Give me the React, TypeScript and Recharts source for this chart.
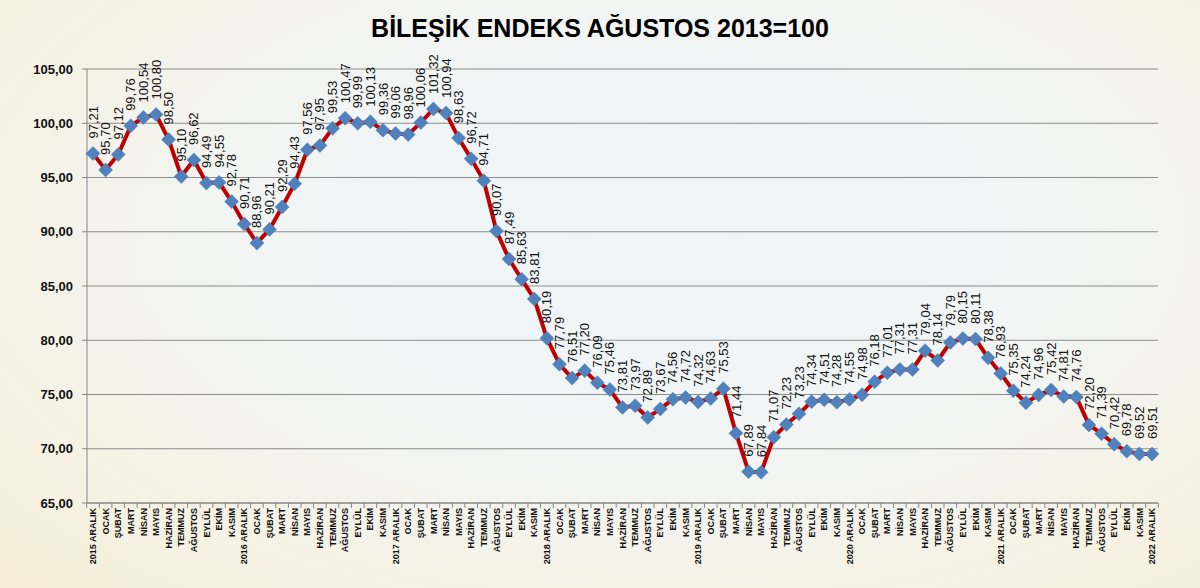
import React from "react";
import { LineChart, Line, XAxis, YAxis, CartesianGrid, LabelList } from "recharts";

const startYear = 2015;
const monthNames = ["OCAK", "ŞUBAT", "MART", "NİSAN", "MAYIS", "HAZİRAN", "TEMMUZ", "AĞUSTOS", "EYLÜL", "EKİM", "KASIM"];

const values = [
  97.21, 95.7, 97.12, 99.76, 100.54, 100.8, 98.5, 95.1, 96.62, 94.49, 94.55, 92.78,
  90.71, 88.96, 90.21, 92.29, 94.43, 97.56, 97.95, 99.53, 100.47, 99.99, 100.13, 99.36,
  99.06, 98.96, 100.06, 101.32, 100.94, 98.63, 96.72, 94.71, 90.07, 87.49, 85.63, 83.81,
  80.19, 77.79, 76.51, 77.2, 76.09, 75.46, 73.81, 73.97, 72.89, 73.67, 74.56, 74.72,
  74.32, 74.63, 75.53, 71.44, 67.89, 67.84, 71.07, 72.23, 73.23, 74.34, 74.51, 74.28,
  74.55, 74.98, 76.18, 77.01, 77.31, 77.31, 79.04, 78.14, 79.79, 80.15, 80.11, 78.38,
  76.93, 75.35, 74.24, 74.96, 75.42, 74.81, 74.76, 72.2, 71.39, 70.42, 69.78, 69.52, 69.51,
];

const categories = values.map((_, i) =>
  i % 12 === 0 ? `${startYear + i / 12} ARALIK` : monthNames[(i % 12) - 1]
);

const yTicks = [65, 70, 75, 80, 85, 90, 95, 100, 105];

const data = categories.map((name, i) => ({ name, value: values[i] }));

const W = 1200;
const H = 588;
const margin = { top: 69, right: 42, left: 0, bottom: 5 };
const plotW = W - 87 - margin.right;
const pad = 6;
const step = (plotW - 2 * pad) / (data.length - 1);

const fmt = (v: number) => v.toFixed(2).replace(".", ",");

const XTick = (props: any) => {
  const { x, y, payload, index } = props;
  return (
    <g>
      <line x1={x - step / 2} y1={y} x2={x - step / 2} y2={y + 5} stroke="#868686" />
      {index === data.length - 1 && (
        <line x1={x + step / 2} y1={y} x2={x + step / 2} y2={y + 5} stroke="#868686" />
      )}
      <text
        x={x}
        y={y + 5}
        transform={`rotate(-90, ${x}, ${y + 5})`}
        textAnchor="end"
        dy="0.35em"
        fontSize={9}
        fontWeight="bold"
        fontFamily="'Liberation Sans', Arial, sans-serif"
        fill="#111"
      >
        {payload.value}
      </text>
    </g>
  );
};

const Diamond = (props: any) => {
  const { cx, cy } = props;
  if (cx == null || cy == null) return null;
  const r = 7;
  return (
    <polygon
      points={`${cx},${cy - r} ${cx + r},${cy} ${cx},${cy + r} ${cx - r},${cy}`}
      fill="#4f81bd"
      stroke="#4a7ab3"
      strokeWidth={0.5}
    />
  );
};

const ValueLabel = (props: any) => {
  const { x, y, value } = props;
  const ly = y - 15;
  return (
    <text
      x={x}
      y={ly}
      transform={`rotate(-90, ${x}, ${ly})`}
      textAnchor="start"
      dy="0.35em"
      fontSize={13}
      fontFamily="'Liberation Sans', Arial, sans-serif"
      fill="#111"
    >
      {fmt(value)}
    </text>
  );
};

export default function App() {
  return (
    <div
      style={{
        position: "absolute",
        top: 0,
        left: 0,
        width: W,
        height: H,
        background:
          "radial-gradient(ellipse at 55% 40%, #eef4fa 0%, #f2f5f3 45%, #f6f1e2 80%, #f5edd8 100%)",
        fontFamily: "'Liberation Sans', Arial, sans-serif",
      }}
    >
      <div
        style={{
          position: "absolute",
          top: 14,
          left: 0,
          width: W,
          textAlign: "center",
          fontSize: 25,
          fontWeight: "bold",
          color: "#000",
        }}
      >
        BİLEŞİK ENDEKS AĞUSTOS 2013=100
      </div>
      <LineChart width={W} height={H} data={data} margin={margin}>
        <CartesianGrid vertical={false} stroke="#8c8c8c" strokeWidth={1} />
        <XAxis
          dataKey="name"
          interval={0}
          tickLine={false}
          tickSize={0}
          tickMargin={0}
          height={80}
          padding={{ left: pad, right: pad }}
          axisLine={{ stroke: "#868686" }}
          tick={<XTick />}
        />
        <YAxis
          width={87}
          domain={[65, 105]}
          ticks={yTicks}
          tickFormatter={fmt}
          axisLine={{ stroke: "#868686" }}
          tickLine={{ stroke: "#868686" }}
          tickSize={5}
          tickMargin={9}
          tick={{ fill: "#111", fontSize: 13, fontWeight: "bold" }}
        />
        <Line
          dataKey="value"
          type="linear"
          stroke="#c00000"
          strokeWidth={4}
          dot={<Diamond />}
          activeDot={false}
          isAnimationActive={false}
        >
          <LabelList dataKey="value" content={<ValueLabel />} />
        </Line>
      </LineChart>
    </div>
  );
}
